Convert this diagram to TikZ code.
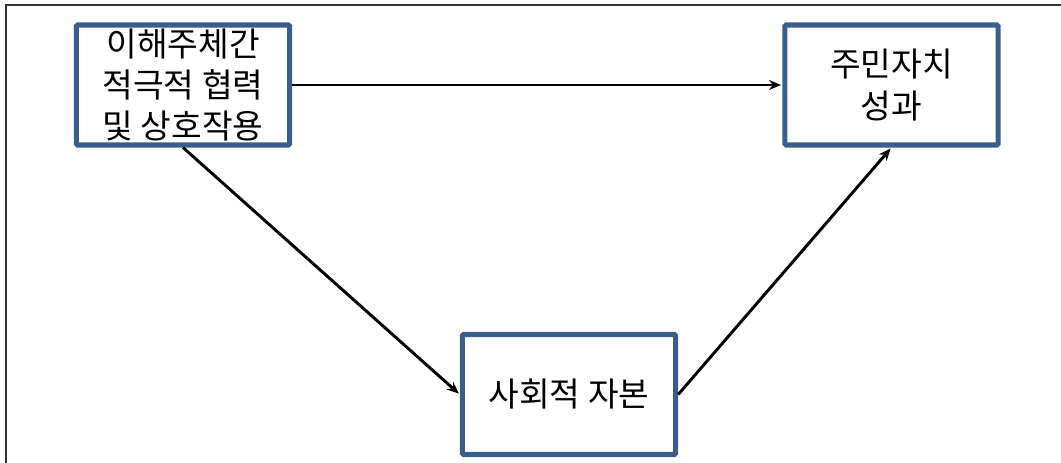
\documentclass[tikz,border=0pt]{standalone}
\usepackage{fontspec}
\setmainfont{Noto Sans CJK KR}
\usetikzlibrary{arrows.meta}
\definecolor{boxblue}{HTML}{3A5E8C}
\tikzset{
  stagebox/.style={draw=boxblue,line width=3.8pt,rounded corners=1pt,fill=white,minimum width=160pt,minimum height=90pt,align=center,inner sep=0pt,font=\fontsize{25}{31}\selectfont},
  linkarrow/.style={-{Stealth[length=9pt,width=7.5pt]},line width=2.2pt,shorten >=1pt}
}
\begin{document}
\begin{tikzpicture}[x=0.75pt,y=-0.75pt]
\useasboundingbox(0,0)rectangle(1061,463);
\draw[line width=2pt,black!80](6,463)--(6,5)--(1061,5);
\node[stagebox](actors)at(183,85){이해주체간\\적극적 협력\\및 상호작용};
\node[stagebox](outcome)at(891.5,85){주민자치\\성과};
\node[stagebox](capital)at(569,394.5){사회적 자본};
\draw[linkarrow](actors.east)--(outcome.west);
\draw[linkarrow](actors.south)--(capital.west);
\draw[linkarrow](capital.east)--(outcome.south);
\end{tikzpicture}
\end{document}
